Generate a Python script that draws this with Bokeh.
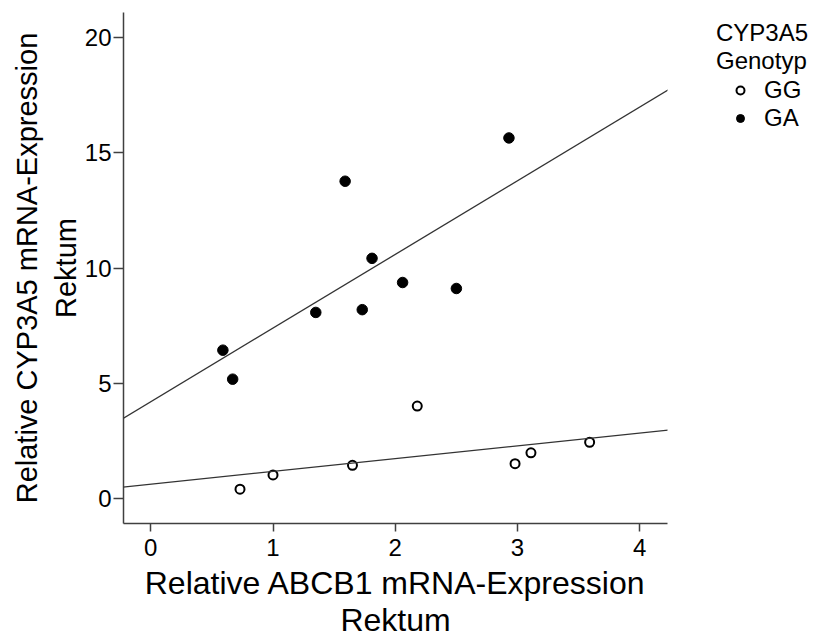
from bokeh.plotting import figure
from bokeh.models import Range1d, Legend, LegendItem, FixedTicker, Slope
from bokeh.embed import file_html
from bokeh.resources import INLINE

# ---- data ----
gg_x = [0.73, 1.00, 1.65, 2.18, 2.98, 3.11, 3.59]
gg_y = [0.39, 1.01, 1.43, 4.00, 1.50, 1.97, 2.43]
ga_x = [0.59, 0.67, 1.35, 1.59, 1.73, 1.81, 2.06, 2.50, 2.93]
ga_y = [6.43, 5.17, 8.07, 13.77, 8.19, 10.42, 9.37, 9.11, 15.65]
genotypes = ["GG", "GA"]
fit_intercepts = [0.61, 4.19]
fit_slopes = [0.555, 3.20]
x_ticks = [0, 1, 2, 3, 4]
y_ticks = [0, 5, 10, 15, 20]
x_title = "Relative ABCB1 mRNA-Expression\nRektum"
y_title = "Relative CYP3A5 mRNA-Expression\nRektum"
legend_title = "CYP3A5\nGenotyp"

FONT = "Liberation Sans"
AX = "#404040"

p = figure(frame_width=544, frame_height=511,
           x_range=Range1d(-0.223, 4.227), y_range=Range1d(-1.1, 21.1),
           output_backend="svg", toolbar_location=None,
           min_border_left=123, min_border_top=12, min_border_right=152,
           min_border_bottom=119)
p.outline_line_color = None
p.grid.visible = False
p.background_fill_color = "white"
p.border_fill_color = "white"

for ax in (p.xaxis[0], p.yaxis[0]):
    ax.axis_line_color = AX
    ax.axis_line_width = 1.5
    ax.major_tick_line_color = AX
    ax.major_tick_line_width = 1.5
    ax.minor_tick_line_color = None
    ax.major_tick_in = 0
    ax.major_label_text_font = FONT
    ax.major_label_text_font_size = "24px"
    ax.major_label_text_color = "black"
    ax.axis_label_text_font = FONT
    ax.axis_label_text_font_style = "normal"
    ax.axis_label_text_color = "black"

p.xaxis.ticker = FixedTicker(ticks=x_ticks)
p.yaxis.ticker = FixedTicker(ticks=y_ticks)
p.xaxis.major_tick_out = 8
p.yaxis.major_tick_out = 10
p.xaxis.major_label_standoff = 7
p.yaxis.major_label_standoff = 2
p.xaxis.axis_label = x_title
p.yaxis.axis_label = y_title
p.xaxis.axis_label_text_font_size = "32px"
p.yaxis.axis_label_text_font_size = "29px"
p.xaxis.axis_label_text_line_height = 1.05
p.yaxis.axis_label_text_line_height = 1.2
p.xaxis.axis_label_standoff = 6
p.yaxis.axis_label_standoff = 0

for b, m in zip(fit_intercepts, fit_slopes):
    p.add_layout(Slope(gradient=m, y_intercept=b, line_color="#333333", line_width=1.3))

r_gg = p.scatter(gg_x, gg_y, marker="circle", size=9, fill_color="white",
                 line_color="black", line_width=2)
r_ga = p.scatter(ga_x, ga_y, marker="circle", size=10.5, fill_color="black",
                 line_color="black", line_width=1)

legend = Legend(items=[LegendItem(label=genotypes[0], renderers=[r_gg]),
                       LegendItem(label=genotypes[1], renderers=[r_ga])],
                location=(49, 391), title=legend_title,
                title_text_font=FONT, title_text_font_size="24px",
                title_text_font_style="normal", title_standoff=1,
                title_text_line_height=0.9, title_text_color="black",
                label_text_font=FONT, label_text_font_size="24px",
                label_text_color="black",
                border_line_color=None, background_fill_alpha=0,
                padding=0, margin=0, spacing=0, glyph_width=48,
                glyph_height=20, label_height=20, label_standoff=0)
p.add_layout(legend, "right")

open("out.html", "w").write(file_html(p, INLINE))
